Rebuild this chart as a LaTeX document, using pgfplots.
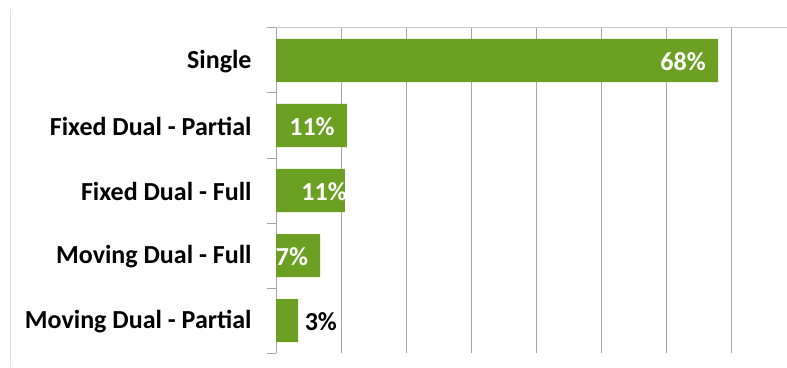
\documentclass[border=0pt]{standalone}
\usepackage{pgfplots}
\pgfplotsset{compat=1.18}
\usepackage{fontspec}
\setmainfont{Carlito}
\definecolor{bargreen}{RGB}{107,160,35}
\definecolor{gridgray}{RGB}{166,166,166}
\definecolor{lightgray}{RGB}{200,200,200}
\definecolor{bordergray}{RGB}{225,225,225}
\begin{document}
\begin{tikzpicture}
\path[use as bounding box, clip] (0pt,0pt) rectangle (787pt,367pt);
\draw[bordergray, line width=1pt] (10.5pt,358pt) -- (10.5pt,0pt);
\begin{axis}[
  at={(276pt,14pt)}, anchor=south west,
  scale only axis, width=520pt, height=325pt,
  xbar, bar width=43pt,
  xmin=0, xmax=80,
  ymin=-0.5, ymax=4.5,
  xtick={0,10,...,80}, xticklabels={},
  xmajorgrids, grid style={gridgray, line width=1pt},
  major x tick style={draw=none},
  ytick={0,1,2,3,4},
  yticklabels={Moving Dual - Partial, Moving Dual - Full, Fixed Dual - Full, Fixed Dual - Partial, Single},
  minor ytick={-0.5,0.5,1.5,2.5,3.5,4.5},
  major y tick style={draw=none},
  minor y tick style={gridgray, line width=1pt},
  minor tick length=9pt,
  tick align=outside,
  axis x line*=top, axis y line*=left,
  x axis line style={lightgray, line width=1pt, -},
  y axis line style={gridgray, line width=1pt, -},
  yticklabel style={font=\fontsize{26}{30}\selectfont\bfseries, anchor=east, inner sep=0pt, xshift=-20pt, yshift=-1pt},
  clip=false,
  /pgf/number format/assume math mode=true,
  nodes near coords={\pgfmathprintnumber{\pgfplotspointmeta}\%},
  every node near coord/.style={anchor=east, inner sep=0pt, yshift=-1.5pt, font=\fontsize{26}{30}\selectfont\bfseries},
]
\addplot[fill=bargreen, draw=none, bar shift=0pt, nodes near coords=] coordinates {(68,4) (10.9,3) (10.6,2) (6.8,1) (3.4,0)};
\addplot[draw=none, fill=none, bar shift=0pt, point meta=explicit,
  every node near coord/.append style={text=white, xshift=-12pt}]
  coordinates {(68,4) [68] (10.9,3) [11] (6.8,1) [7]};
\addplot[draw=none, fill=none, bar shift=0pt, point meta=explicit,
  every node near coord/.append style={text=white, xshift=2pt}]
  coordinates {(10.6,2) [11]};
\addplot[draw=none, fill=none, bar shift=0pt, point meta=explicit,
  every node near coord/.append style={text=black, xshift=39pt}]
  coordinates {(3.4,0) [3]};
\end{axis}
\end{tikzpicture}
\end{document}
